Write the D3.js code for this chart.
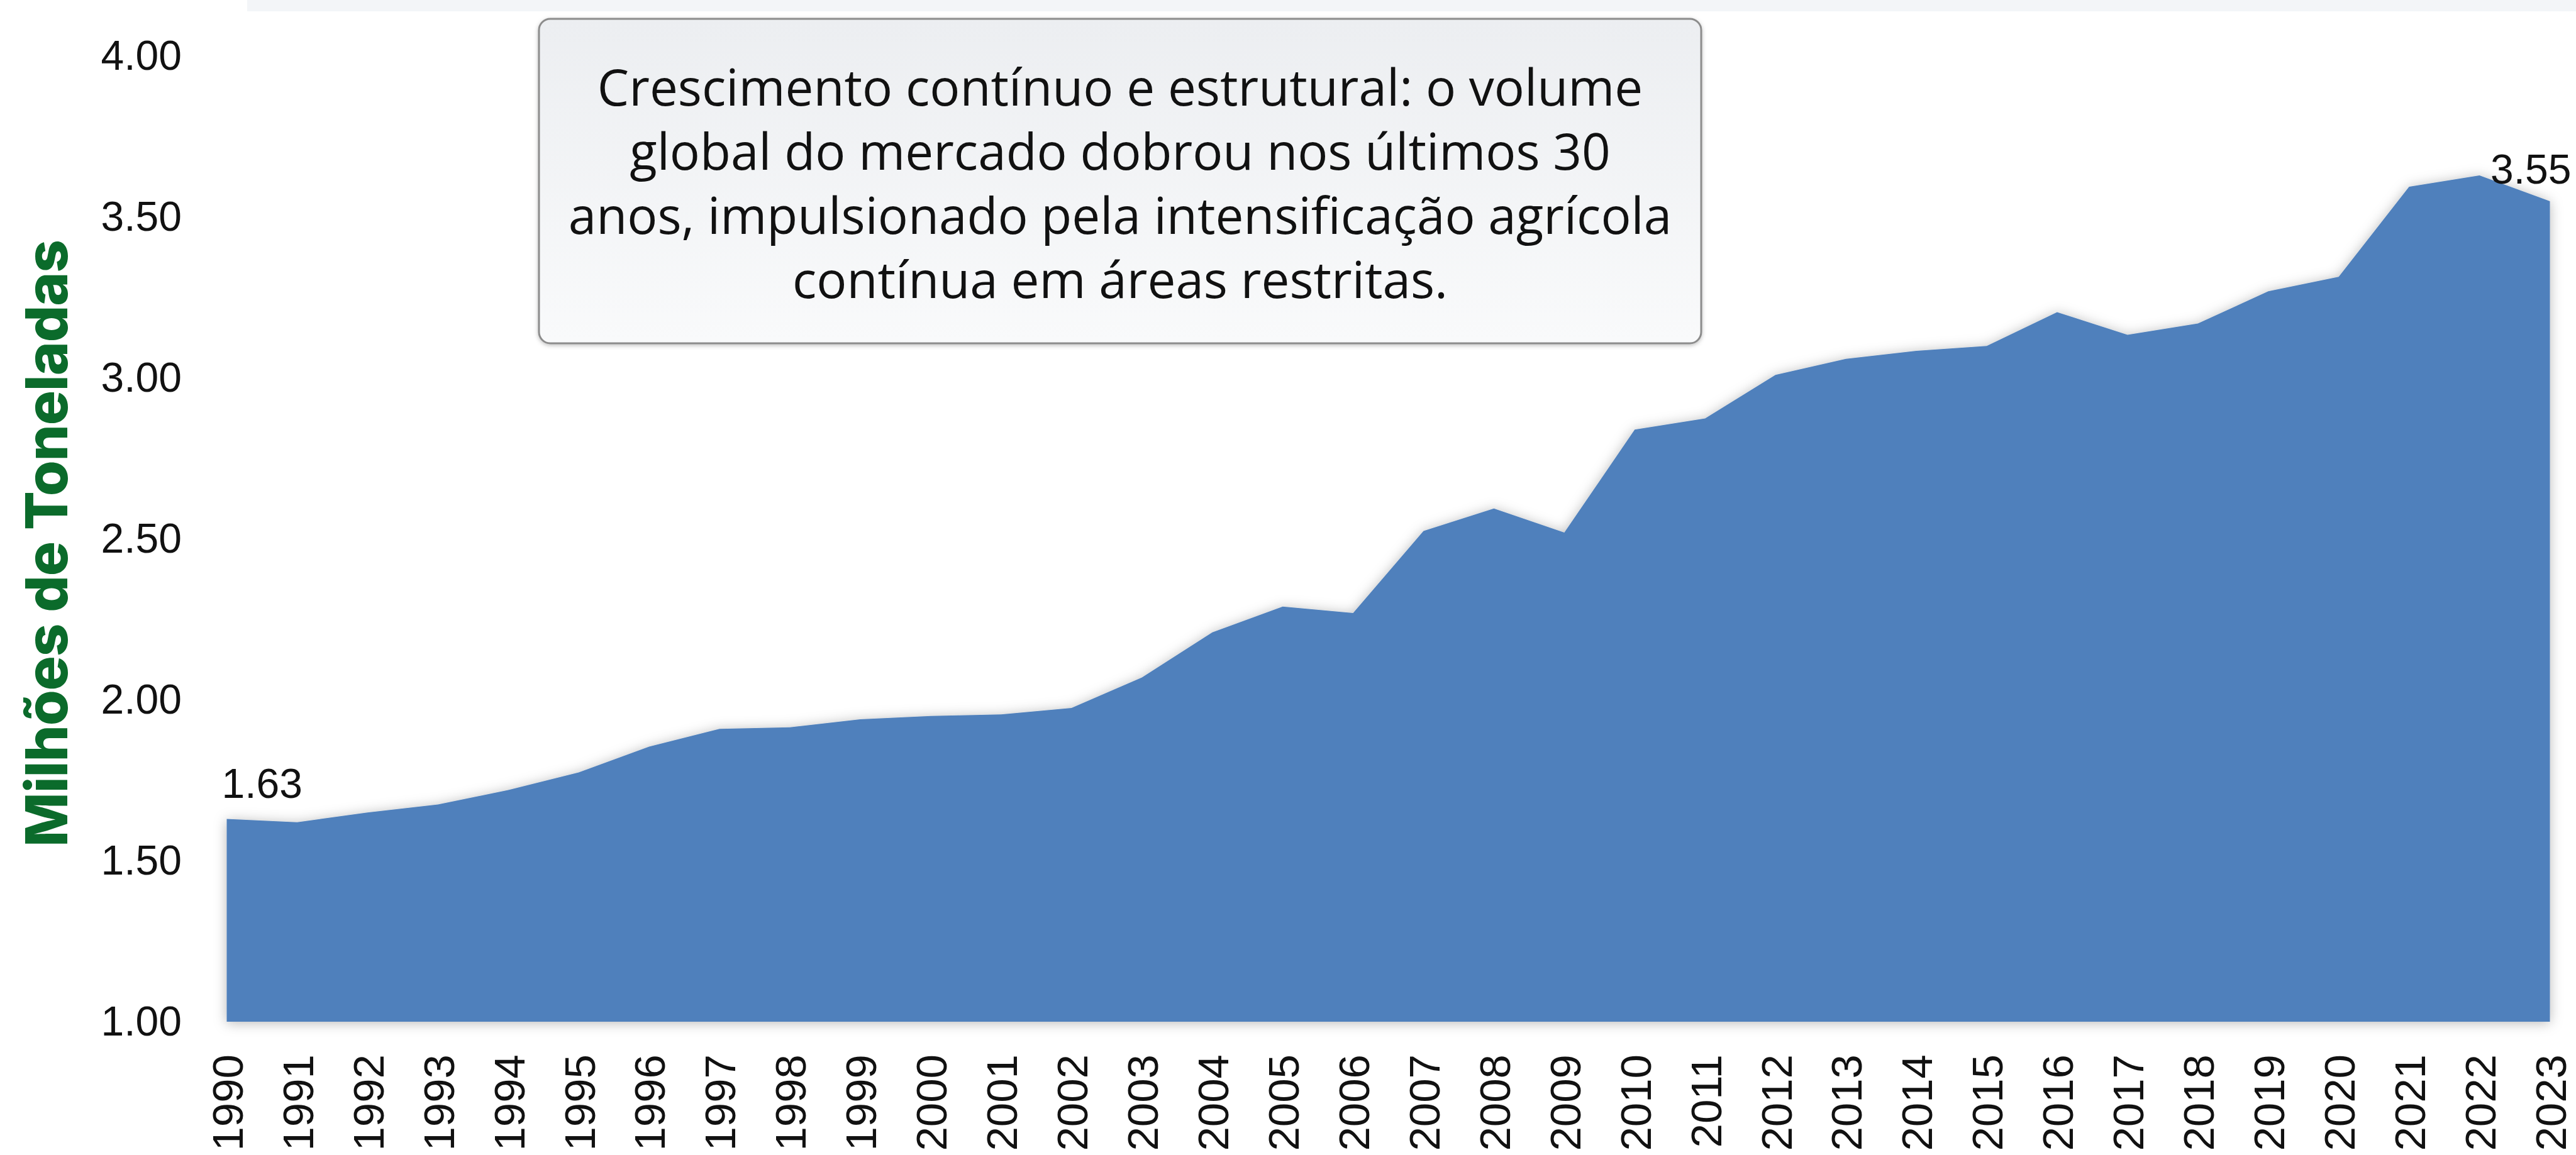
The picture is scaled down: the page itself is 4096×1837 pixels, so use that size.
<!DOCTYPE html>
<html>
<head>
<meta charset="utf-8">
<script src="https://cdn.jsdelivr.net/npm/d3@7/dist/d3.min.js"></script>
<style>
  body { margin: 0; background: #fff; overflow: hidden; }
</style>
</head>
<body>
<script>
var width = 4096,
    height = 1837;

// DATA
var years = [1990, 1991, 1992, 1993, 1994, 1995, 1996, 1997, 1998, 1999,
             2000, 2001, 2002, 2003, 2004, 2005, 2006, 2007, 2008, 2009,
             2010, 2011, 2012, 2013, 2014, 2015, 2016, 2017, 2018, 2019,
             2020, 2021, 2022, 2023];
var values = [1.63, 1.62, 1.65, 1.675, 1.72, 1.775, 1.855, 1.91, 1.915, 1.94,
              1.95, 1.955, 1.975, 2.07, 2.21, 2.29, 2.27, 2.525, 2.595, 2.52,
              2.84, 2.875, 3.01, 3.06, 3.085, 3.10, 3.205, 3.135, 3.17, 3.27,
              3.315, 3.595, 3.63, 3.55];
var yTicks = [1.00, 1.50, 2.00, 2.50, 3.00, 3.50, 4.00];
var yTitle = "Milhões de Toneladas";
var noteLines = [
  "Crescimento contínuo e estrutural: o volume",
  "global do mercado dobrou nos últimos 30",
  "anos, impulsionado pela intensificação agrícola",
  "contínua em áreas restritas."
];
// first and last points get a value label
var labelled = [0, values.length - 1];

var data = years.map(function(yr, i) { return {year: yr, value: values[i]}; });

var svg = d3.select("body").append("svg")
    .attr("width", width)
    .attr("height", height);

var defs = svg.append("defs");
var shadow = defs.append("filter").attr("id", "areaShadow")
    .attr("x", "-5%").attr("y", "-10%").attr("width", "110%").attr("height", "120%");
shadow.append("feDropShadow")
    .attr("dx", 0).attr("dy", 2)
    .attr("stdDeviation", 10)
    .attr("flood-color", "#000")
    .attr("flood-opacity", 0.28);

var boxShadow = defs.append("filter").attr("id", "boxShadow")
    .attr("x", "-5%").attr("y", "-10%").attr("width", "110%").attr("height", "125%");
boxShadow.append("feDropShadow")
    .attr("dx", 0).attr("dy", 2)
    .attr("stdDeviation", 3)
    .attr("flood-color", "#000")
    .attr("flood-opacity", 0.25);

var boxGrad = defs.append("linearGradient").attr("id", "boxGrad")
    .attr("x1", 0).attr("y1", 0).attr("x2", 0).attr("y2", 1);
boxGrad.append("stop").attr("offset", "0%").attr("stop-color", "#eceef1");
boxGrad.append("stop").attr("offset", "100%").attr("stop-color", "#f9fafb");

// faint band along the top edge
svg.append("rect")
    .attr("x", 393).attr("y", 0)
    .attr("width", width - 393).attr("height", 18)
    .attr("fill", "#f3f5f8");

// SCALES
var x = d3.scaleLinear().domain([1990, 2023]).range([360.5, 4054.5]);
var y = d3.scaleLinear().domain([1, 4]).range([1625, 89.7]);

// AREA
var area = d3.area()
    .x(function(d) { return x(d.year); })
    .y0(y(1))
    .y1(function(d) { return y(d.value); });

svg.append("path")
    .datum(data)
    .attr("d", area)
    .attr("fill", "#4f80bc")
    .attr("filter", "url(#areaShadow)");

// Y AXIS
var yAxis = svg.append("g")
    .attr("transform", "translate(289,0)")
    .call(d3.axisLeft(y).tickValues(yTicks).tickFormat(d3.format(".2f")).tickSize(0).tickPadding(0));
yAxis.select(".domain").remove();
yAxis.selectAll("text")
    .style("font-size", "66px")
    .style("font-family", "'Liberation Sans', Arial, sans-serif")
    .attr("fill", "#111");

// X AXIS
var xAxis = svg.append("g")
    .attr("transform", "translate(0," + y(1) + ")")
    .call(d3.axisBottom(x).tickValues(years).tickFormat(d3.format("d")).tickSize(0));
xAxis.select(".domain").remove();
xAxis.selectAll("text")
    .style("font-size", "69px")
    .style("font-family", "'Liberation Sans', Arial, sans-serif")
    .attr("fill", "#111")
    .attr("transform", "rotate(-90)")
    .attr("text-anchor", "end")
    .attr("x", -52)
    .attr("y", 0)
    .attr("dy", "0.36em");

// VALUE LABELS
svg.selectAll("text.value")
    .data(labelled)
    .enter().append("text")
    .attr("class", "value")
    .attr("x", function(i) { return i === 0 ? x(years[i]) - 8 : x(years[i]) + 34; })
    .attr("y", function(i) { return y(values[i]) - (i === 0 ? 34 : 28); })
    .attr("text-anchor", function(i) { return i === 0 ? "start" : "end"; })
    .style("font-size", "66px")
    .style("font-family", "'Liberation Sans', Arial, sans-serif")
    .attr("fill", "#111")
    .text(function(i) { return d3.format(".2f")(values[i]); });

// Y TITLE
svg.append("text")
    .attr("transform", "translate(73,864) rotate(-90)")
    .attr("text-anchor", "middle")
    .attr("dominant-baseline", "central")
    .style("font-family", "Inter, Lato, sans-serif")
    .style("font-weight", 800)
    .style("font-size", "92px")
    .attr("fill", "#0b6b2b")
    .attr("textLength", 966)
    .attr("lengthAdjust", "spacing")
    .text(yTitle);

// ANNOTATION BOX
var note = svg.append("g");
note.append("rect")
    .attr("x", 857).attr("y", 30)
    .attr("width", 1848).attr("height", 516)
    .attr("rx", 18).attr("ry", 18)
    .attr("fill", "url(#boxGrad)")
    .attr("stroke", "#8c8c8c")
    .attr("stroke-width", 3)
    .attr("filter", "url(#boxShadow)");

note.selectAll("text")
    .data(noteLines)
    .enter().append("text")
    .attr("x", 1781)
    .attr("y", function(d, i) { return 168 + i * 102; })
    .attr("text-anchor", "middle")
    .style("font-family", "'Open Sans', 'Noto Sans', sans-serif")
    .style("font-size", "80px")
    .attr("fill", "#111")
    .text(function(d) { return d; });
</script>
</body>
</html>
